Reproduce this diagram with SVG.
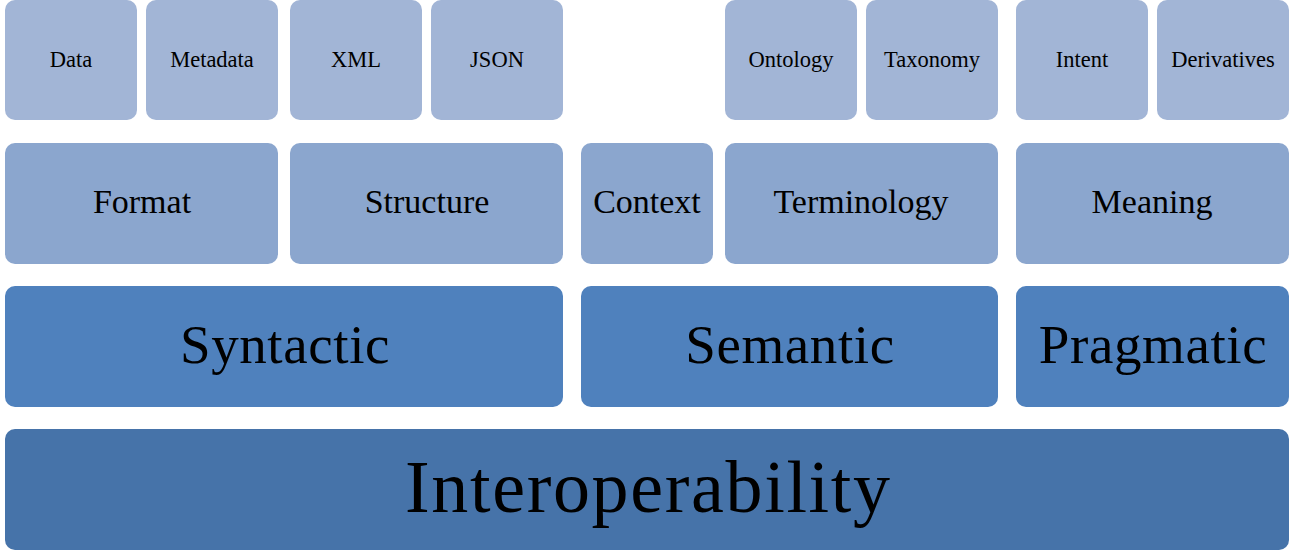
<svg xmlns="http://www.w3.org/2000/svg" width="1289" height="550" viewBox="0 0 1289 550">
<style>
text{font-family:"Liberation Serif","DejaVu Serif",serif;fill:#000;text-anchor:middle}
.r1{fill:#A2B5D6}
.r2{fill:#8BA6CE}
.r3{fill:#4F81BD}
.r4{fill:#4673A9}
.t1{font-size:22.5px}
.t2{font-size:34px}
.t3{font-size:55px;letter-spacing:0.6px}
.t4{font-size:74px}
</style>
<rect width="1289" height="550" fill="#fff"/>
<g id="data"><rect class="r1" x="5" y="0" width="132" height="120" rx="10"/><text class="t1" x="71" y="67">Data</text></g>
<g id="metadata"><rect class="r1" x="146" y="0" width="132" height="120" rx="10"/><text class="t1" x="212" y="67">Metadata</text></g>
<g id="xml"><rect class="r1" x="290" y="0" width="132" height="120" rx="10"/><text class="t1" x="356" y="67">XML</text></g>
<g id="json"><rect class="r1" x="431" y="0" width="132" height="120" rx="10"/><text class="t1" x="497" y="67">JSON</text></g>
<g id="ontology"><rect class="r1" x="725" y="0" width="132" height="120" rx="10"/><text class="t1" x="791" y="67">Ontology</text></g>
<g id="taxonomy"><rect class="r1" x="866" y="0" width="132" height="120" rx="10"/><text class="t1" x="932" y="67">Taxonomy</text></g>
<g id="intent"><rect class="r1" x="1016" y="0" width="132" height="120" rx="10"/><text class="t1" x="1082" y="67">Intent</text></g>
<g id="derivatives"><rect class="r1" x="1157" y="0" width="132" height="120" rx="10"/><text class="t1" x="1223" y="67">Derivatives</text></g>
<g id="format"><rect class="r2" x="5" y="143" width="273" height="121" rx="10"/><text class="t2" x="142" y="213">Format</text></g>
<g id="structure"><rect class="r2" x="290" y="143" width="273" height="121" rx="10"/><text class="t2" x="427" y="213">Structure</text></g>
<g id="context"><rect class="r2" x="581" y="143" width="132" height="121" rx="10"/><text class="t2" x="647" y="213">Context</text></g>
<g id="terminology"><rect class="r2" x="725" y="143" width="273" height="121" rx="10"/><text class="t2" x="861" y="213">Terminology</text></g>
<g id="meaning"><rect class="r2" x="1016" y="143" width="273" height="121" rx="10"/><text class="t2" x="1152" y="213">Meaning</text></g>
<g id="syntactic"><rect class="r3" x="5" y="286" width="558" height="121" rx="10"/><text class="t3" x="285" y="363">Syntactic</text></g>
<g id="semantic"><rect class="r3" x="581" y="286" width="417" height="121" rx="10"/><text class="t3" x="790" y="363">Semantic</text></g>
<g id="pragmatic"><rect class="r3" x="1016" y="286" width="273" height="121" rx="10"/><text class="t3" x="1153" y="363">Pragmatic</text></g>
<g id="interoperability"><rect class="r4" x="5" y="429" width="1284" height="121" rx="10"/><text class="t4" x="647.5" y="512" textLength="485" lengthAdjust="spacing">Interoperability</text></g>
<g id="connectors"/>
</svg>
